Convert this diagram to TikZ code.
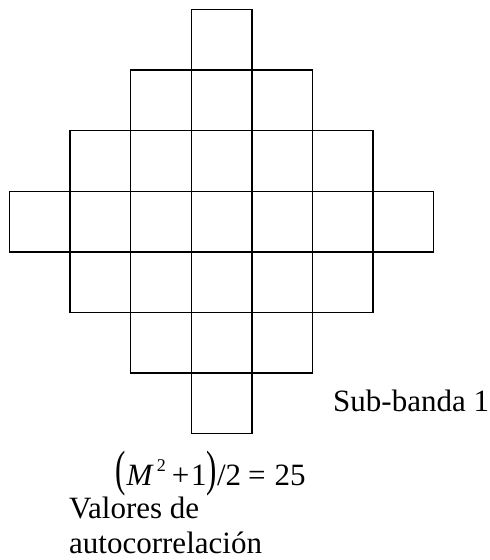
\documentclass[tikz,border=0pt]{standalone}
\usepackage{graphicx}
\usepackage{fontspec}
\setmainfont{Liberation Serif}
\usetikzlibrary{positioning}

\newcommand\tallparen[1]{\scalebox{1}[1.6]{#1}}

\begin{document}
\begin{tikzpicture}[x=1pt,y=-1pt,every node/.style={font=\fontsize{31}{36}\selectfont,inner sep=0pt}]
\useasboundingbox (0,0) rectangle (490,560);
% diamond of 25 cells
\foreach \r in {0,...,6}{
  \foreach \c in {0,...,6}{
    \pgfmathtruncatemacro{\d}{abs(\c-3)+abs(\r-3)}
    \ifnum\d<4
      \draw[line width=1.3pt] (9.5+60.6*\c,9.5+60.6*\r) rectangle ++(60.6,60.6);
    \fi
  }
}
\node[anchor=base west] (band) at (333,411.7) {Sub-banda 1};
\node[anchor=base west] (formula) at (115,485) {\tallparen{(}\hspace{1pt}\textit{M}\hspace{3pt}\raisebox{0.42em}{\fontsize{18}{18}\selectfont 2}\hspace{6pt}+\hspace{2pt}1\tallparen{)}/2\hspace{7pt}=\hspace{9pt}25};
\node[anchor=base west] (valores) at (69,518) {Valores de};
\node[anchor=base west] (autoc) at (69,553) {autocorrelación};
\end{tikzpicture}
\end{document}
